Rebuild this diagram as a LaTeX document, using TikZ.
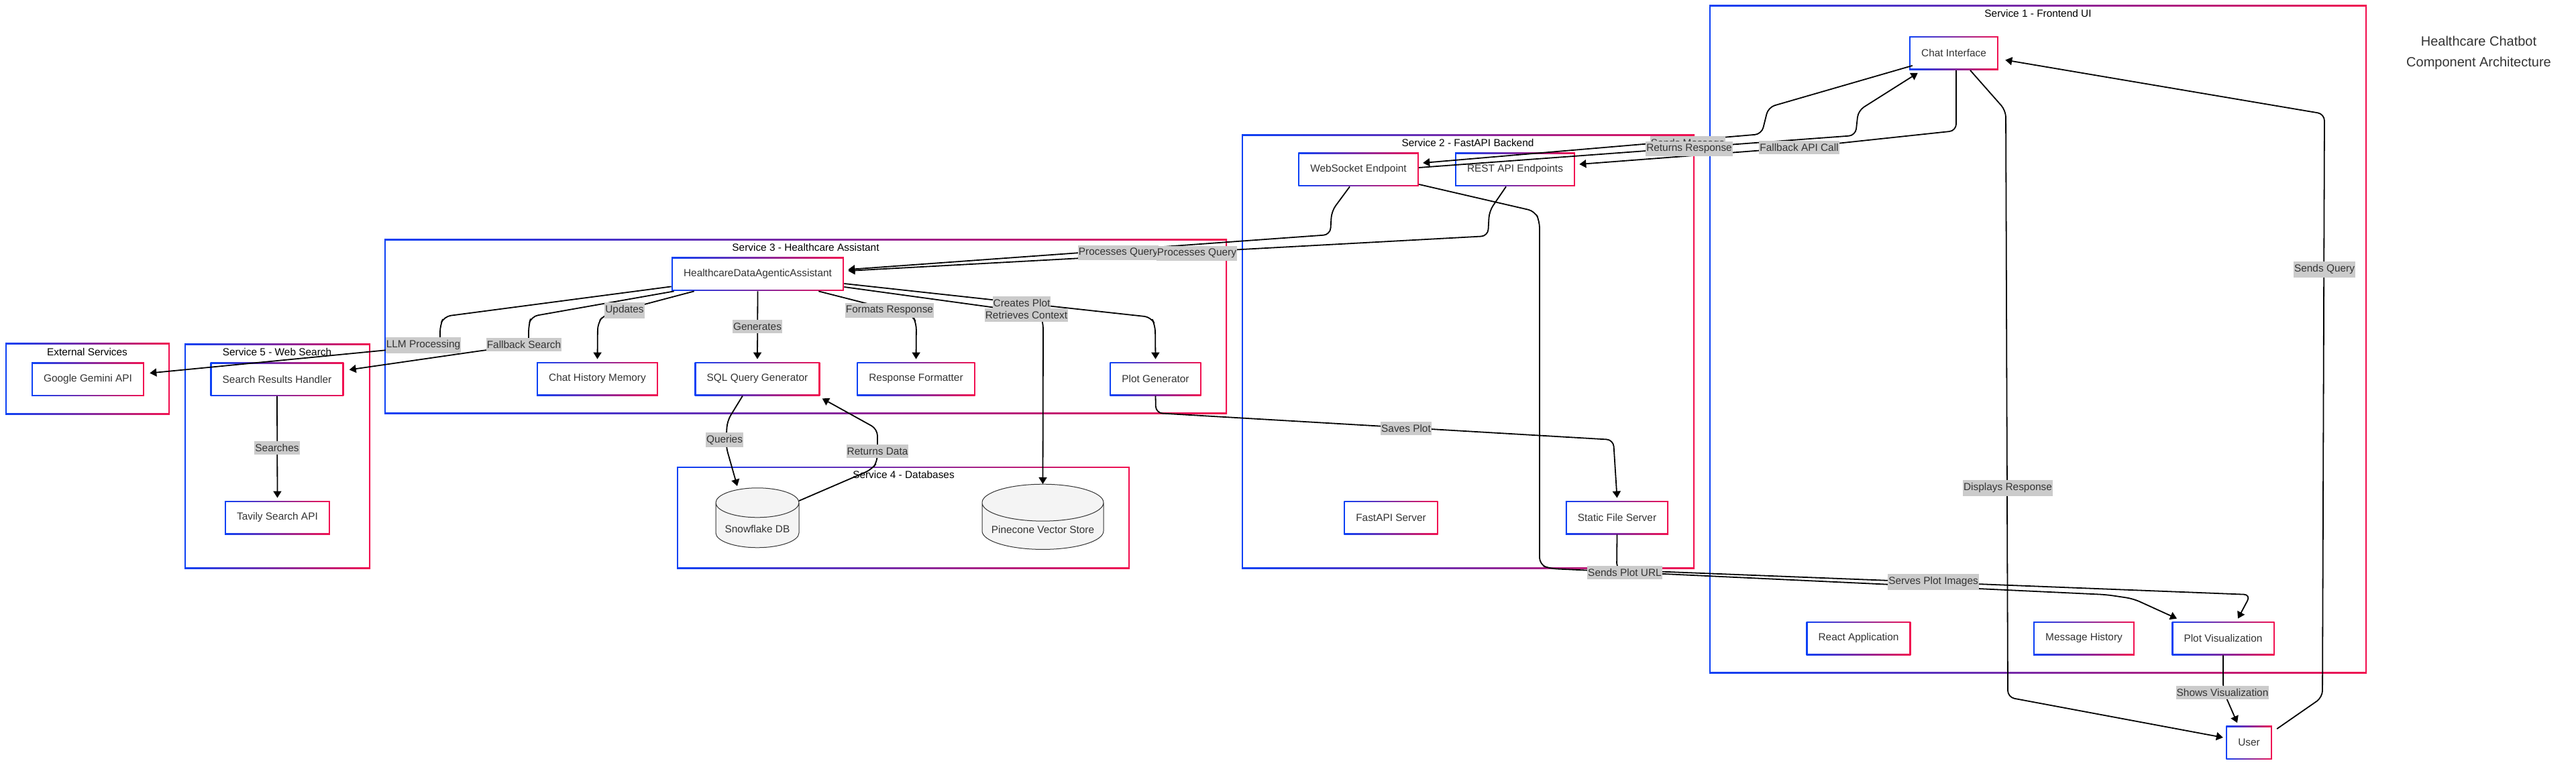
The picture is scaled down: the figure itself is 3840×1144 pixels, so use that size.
\documentclass[tikz,border=0pt]{standalone}
\usepackage{fontspec}
\setmainfont{Liberation Sans}
\usetikzlibrary{shapes.geometric, arrows.meta, positioning, calc}
\definecolor{gblue}{HTML}{0B40F5}
\definecolor{gred}{HTML}{F2104F}
\definecolor{txtgray}{HTML}{333333}
\definecolor{lblgray}{HTML}{CBCBCB}
\definecolor{dbfill}{HTML}{F4F4F4}
\newcommand{\nodefont}{\fontsize{7.7pt}{9pt}\selectfont}

\begin{document}
\begin{tikzpicture}[
    x=0.5pt, y=-0.5pt,
    gradbox/.style={left color=gblue, right color=gred,
        path picture={\fill[white] ([shift={(1pt,1pt)}]path picture bounding box.south west)
            rectangle ([shift={(-1pt,-1pt)}]path picture bounding box.north east);}},
    comp/.style={gradbox, rectangle, minimum height=25pt, inner xsep=9pt, text=txtgray, font=\nodefont},
    ctitle/.style={font=\nodefont, inner sep=0pt},
    db/.style={cylinder, shape border rotate=90, aspect=0.4, draw=txtgray, line width=0.5pt, fill=dbfill, text=txtgray, font=\nodefont},
    flow/.style={draw, line width=0.9pt, rounded corners=5pt, -{Triangle[length=5pt,width=6pt]}},
    elabel/.style={fill=lblgray, text=txtgray, font=\nodefont, inner xsep=0.5pt, inner ysep=2.2pt}
]
\useasboundingbox (0,0) rectangle (3840,1144);

% service groups
\path[gradbox] (8,512) rectangle (253,618);
\path[gradbox] (275,513) rectangle (552,848);
\path[gradbox] (573,357) rectangle (1829,617);
\path[gradbox] (1009,696) rectangle (1684,848);
\path[gradbox] (1851,201) rectangle (2526,848);
\path[gradbox] (2548,8) rectangle (3528,1004);
\node[ctitle] (extT) at (130,525) {External Services};
\node[ctitle] (s5T) at (413,525) {Service 5 - Web Search};
\node[ctitle] (s3T) at (1201,369) {Service 3 - Healthcare Assistant};
\node[ctitle] (s4T) at (1347,708) {Service 4 - Databases};
\node[ctitle] (s2T) at (2188,213) {Service 2 - FastAPI Backend};
\node[ctitle] (s1T) at (3038,20) {Service 1 - Frontend UI};

% components
\node[comp] (gem)   at (131,565.5)    {Google Gemini API};
\node[comp] (srh)   at (413,565.5)    {Search Results Handler};
\node[comp] (tav)   at (413.5,772)    {Tavily Search API};
\node[comp] (hda)   at (1129.5,409)   {HealthcareDataAgenticAssistant};
\node[comp] (chm)   at (890.5,565)    {Chat History Memory};
\node[comp] (sql)   at (1129,565)     {SQL Query Generator};
\node[comp] (rf)    at (1365.5,565)   {Response Formatter};
\node[comp] (pg)    at (1722.5,565)   {Plot Generator};
\node[db, minimum width=62pt, minimum height=44.5pt] (snow) at (1129,788.5) {Snowflake DB};
\node[db, aspect=0.33, minimum width=90.5pt, minimum height=48.5pt] (pine) at (1554.5,790) {Pinecone Vector Store};
\node[comp] (ws)    at (2025,253)     {WebSocket Endpoint};
\node[comp] (rest)  at (2258.5,253)   {REST API Endpoints};
\node[comp] (fas)   at (2073.5,772)   {FastAPI Server};
\node[comp] (sfs)   at (2410.5,772)   {Static File Server};
\node[comp] (chat)  at (2912.5,79.5)  {Chat Interface};
\node[comp] (react) at (2770.5,952)   {React Application};
\node[comp] (mh)    at (3106.5,952)   {Message History};
\node[comp] (pv)    at (3314,952)     {Plot Visualization};
\node[comp] (user)  at (3352.5,1107.5) {User};

% connectors
\draw[flow] ([xshift=3.5pt,yshift=-2.5pt]user.north east) -- (3462,1040) -- (3465,170) -- ([xshift=5pt,yshift=-5pt]chat.east);
\draw[flow] ([xshift=2.5pt,yshift=3.5pt]chat.south west) -- (2636,160) -- (2626,200) -- ([xshift=3pt,yshift=5pt]ws.east);
\draw[flow] ([yshift=1.5pt]ws.east) -- (2766,202) -- (2770,165) -- ([xshift=6.5pt,yshift=-2pt]chat.south west);
\draw[flow] ([xshift=1.75pt]chat.south) -- (2916,195) -- (2682,220) -- ([xshift=3pt,yshift=4pt]rest.east);
\draw[flow] ([xshift=12.25pt]chat.south) -- (2990,165) -- (2993,1040) -- ([xshift=-2pt,yshift=3.75pt]user.west);
\draw[flow] ([xshift=-6.5pt]ws.south) -- (1985,315) -- (1983,350) -- ([xshift=3pt,yshift=3.5pt]hda.east);
\draw[flow] ([xshift=-6.75pt]rest.south) -- (2220,315) -- (2218,352) -- ([xshift=3pt,yshift=2.5pt]hda.east);
\draw[flow] ([yshift=3.5pt]hda.south west) -- (662,472) -- (656,485) -- (656,517) -- (578,522) -- ([xshift=4pt,yshift=4.5pt]gem.east);
\draw[flow] ([xshift=2pt]hda.south west) -- (792,472) -- (788,485) -- (788,517) -- (725,522) -- ([xshift=4pt,yshift=7pt]srh.east);
\draw[flow] ([xshift=17pt]hda.south west) -- (900,470) -- (891,482) -- ([yshift=2pt]chm.north);
\draw[flow] (hda.south) -- ([yshift=2pt]sql.north);
\draw[flow] ([xshift=-19pt]hda.south east) -- (1360,470) -- (1366,482) -- ([yshift=2pt]rf.north);
\draw[flow] ([yshift=-7pt]hda.east) -- (1716,473) -- (1722,485) -- ([yshift=2pt]pg.north);
\draw[flow] ([yshift=-9.5pt]hda.east) -- (1550,468) -- (1555,480) -- ([yshift=34pt]pine.center);
\draw[flow] ([xshift=-11pt]sql.south) -- (1084,628) -- (1082,665) -- ([xshift=-15pt,yshift=31.75pt]snow.center);
\draw[flow] ([xshift=31pt,yshift=20.75pt]snow.center) -- (1300,700) -- (1308,688) -- (1308,640) -- ([xshift=1.5pt,yshift=-2pt]sql.south east);
\draw[flow] (pg.south) -- (1723,616) -- (2405,656) -- ([yshift=2pt]sfs.north);
\draw[flow] (sfs.south) -- (2410,850) -- (3355,887) -- ([xshift=11pt,yshift=2pt]pv.north);
\draw[flow] ([yshift=-11pt]ws.east) -- (2288,315) -- (2295,330) -- (2295,842) -- (2310,848) -- (3140,887) -- (3180,893) -- ([xshift=-34.5pt,yshift=2pt]pv.north);
\draw[flow] (pv.south) -- (3314,1030) -- ([xshift=-8.75pt,yshift=2pt]user.north);
\draw[flow] (srh.south) -- ([yshift=2pt]tav.north);

% edge labels
\node[elabel] (lSQ)  at (3465,402)  {Sends Query};
\node[elabel] (lDR)  at (2993,728)  {Displays Response};
\node[elabel] (lSM)  at (2516,215)  {Sends Message};
\node[elabel] (lRR)  at (2518,222)  {Returns Response};
\node[elabel] (lFA)  at (2682,220)  {Fallback API Call};
\node[elabel] (lPQa) at (1667,377)  {Processes Query};
\node[elabel] (lPQb) at (1784,378)  {Processes Query};
\node[elabel] (lLLM) at (631,515)   {LLM Processing};
\node[elabel] (lFS)  at (781,514)   {Fallback Search};
\node[elabel] (lUP)  at (931,463)   {Updates};
\node[elabel] (lGEN) at (1129,487)  {Generates};
\node[elabel] (lFR)  at (1326,463)  {Formats Response};
\node[elabel] (lCP)  at (1523,452)  {Creates Plot};
\node[elabel] (lRC)  at (1530,470)  {Retrieves Context};
\node[elabel] (lQ)   at (1080,656)  {Queries};
\node[elabel] (lRD)  at (1308,673)  {Returns Data};
\node[elabel] (lSE)  at (413,668)   {Searches};
\node[elabel] (lSP)  at (2096,639)  {Saves Plot};
\node[elabel] (lURL) at (2422,854)  {Sends Plot URL};
\node[elabel] (lSPI) at (2882,868)  {Serves Plot Images};
\node[elabel] (lSV)  at (3313,1033) {Shows Visualization};

\node[align=center, text=txtgray, font=\fontsize{10pt}{15.5pt}\selectfont] (title) at (3695,78.5) {Healthcare Chatbot\\Component Architecture};
\end{tikzpicture}
\end{document}
